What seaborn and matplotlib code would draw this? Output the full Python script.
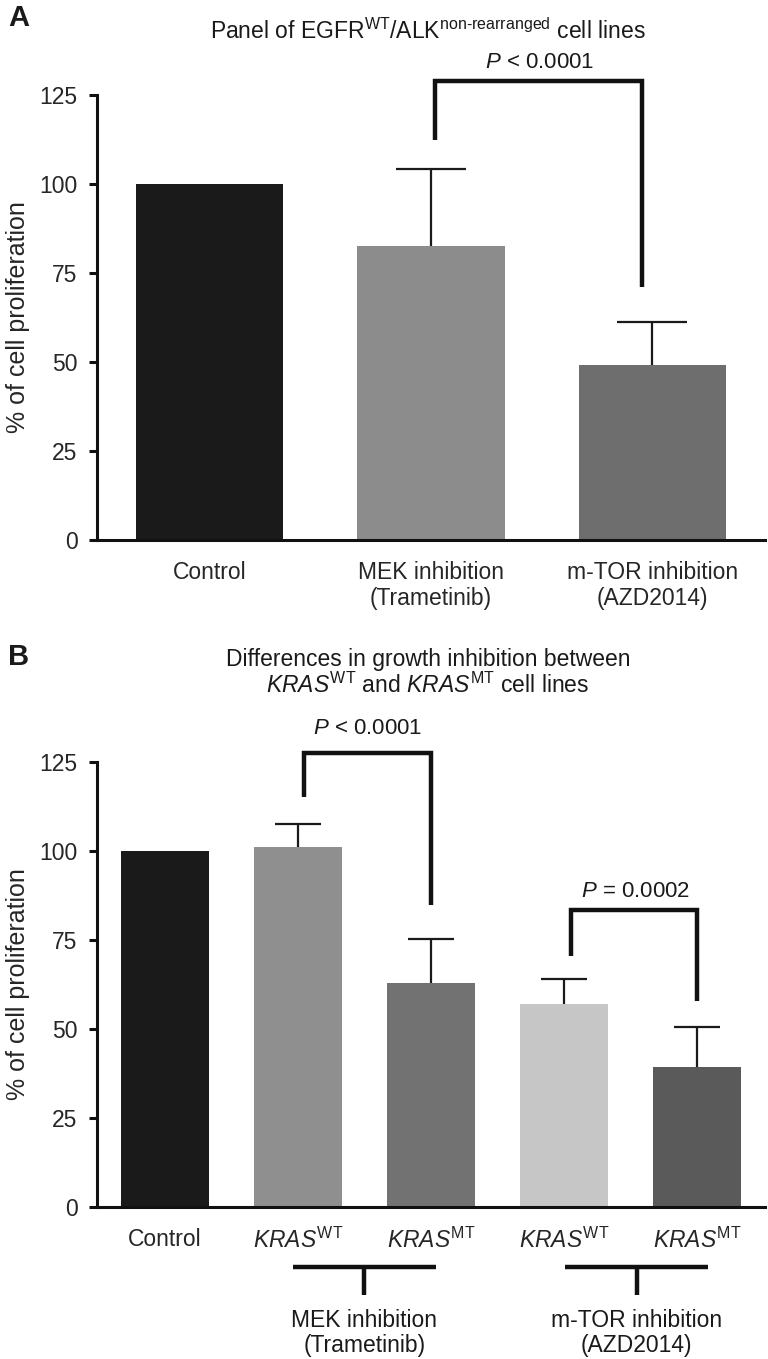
import numpy as np
import pandas as pd
import matplotlib
matplotlib.use("Agg")
import matplotlib.pyplot as plt
import seaborn as sns

# -------------------------------
# Data
# -------------------------------
a_groups = ["Control", "MEK inhibition\n(Trametinib)", "m-TOR inhibition\n(AZD2014)"]
a_mean = [100.0, 82.6, 49.2]
a_sd = [0.0, 21.6, 12.0]
a_colors = ["#1a1a1a", "#8c8c8c", "#6e6e6e"]

b_groups = ["Control", "MEK_WT", "MEK_MT", "mTOR_WT", "mTOR_MT"]
b_ticklabels = ["Control",
                r"$\mathit{KRAS}^{\mathrm{WT}}$", r"$\mathit{KRAS}^{\mathrm{MT}}$",
                r"$\mathit{KRAS}^{\mathrm{WT}}$", r"$\mathit{KRAS}^{\mathrm{MT}}$"]
b_mean = [100.0, 101.1, 62.9, 57.0, 39.3]
b_sd = [0.0, 6.5, 12.4, 7.0, 11.3]
b_colors = ["#1a1a1a", "#8f8f8f", "#727272", "#c6c6c6", "#5a5a5a"]

yticks = [0, 25, 50, 75, 100, 125]

# significance brackets: (x_left, x_right, y_left, y_top, y_right, label, label_x, label_y)
a_sig = [(1.02, 1.955, 112.4, 128.9, 71.1, r"$\mathit{P}$ < 0.0001", 1.49, 134.0)]
b_sig = [(1.045, 2.0, 115.2, 127.6, 84.8, r"$\mathit{P}$ < 0.0001", 1.52, 134.5),
         (3.055, 4.0, 70.5, 83.4, 57.9, r"$\mathit{P}$ = 0.0002", 3.54, 88.5)]

# treatment groups under panel B: (x_start, x_end, label)
b_treat = [(0.96, 2.04, "MEK inhibition\n(Trametinib)"),
           (3.01, 4.08, "m-TOR inhibition\n(AZD2014)")]

# -------------------------------
# Style
# -------------------------------
sns.set_theme(style="ticks")
plt.rcParams["font.family"] = ["Liberation Sans", "DejaVu Sans"]
plt.rcParams["mathtext.fontset"] = "custom"
plt.rcParams["mathtext.rm"] = "Liberation Sans"
plt.rcParams["mathtext.it"] = "Liberation Sans:italic"
plt.rcParams["mathtext.bf"] = "Liberation Sans:bold"
plt.rcParams["text.color"] = "#1a1a1a"

fig = plt.figure(figsize=(7.68, 13.59), dpi=100)
ax_a = fig.add_axes([97 / 768, 1 - 540 / 1359, 668 / 768, 445 / 1359])
ax_b = fig.add_axes([97 / 768, 1 - 1207 / 1359, 668 / 768, 445 / 1359])


def draw_panel(ax, groups, mean, sd, colors, cap_half):
    df = pd.DataFrame({"group": groups, "value": mean})
    sns.barplot(data=df, x="group", y="value", hue="group", order=groups,
                palette=colors, legend=False, width=0.665, saturation=1,
                linewidth=0, ax=ax)
    # upper error bars only (stem + cap), no cap at the bar top
    x = np.arange(len(groups))
    m = np.array(mean)
    s = np.array(sd)
    has = s > 0
    ax.vlines(x[has], m[has], m[has] + s[has], color="#1a1a1a", lw=1.6, zorder=3)
    ax.hlines(m[has] + s[has], x[has] - cap_half, x[has] + cap_half,
              color="#1a1a1a", lw=1.6, zorder=3)
    ax.set_ylim(0, 125)
    ax.set_yticks(yticks)
    ax.set_xlim(-0.51, len(groups) - 0.49)
    ax.set_xlabel("")
    ax.set_ylabel("% of cell proliferation", fontsize=18, labelpad=7)
    for sp in ["top", "right"]:
        ax.spines[sp].set_visible(False)
    for sp in ["left", "bottom"]:
        ax.spines[sp].set_linewidth(2.2)
        ax.spines[sp].set_color("#111111")
    ax.tick_params(axis="y", direction="out", length=6, width=2.2,
                   labelsize=16.5, pad=8, color="#111111")
    ax.tick_params(axis="x", length=0, labelsize=16.5, pad=15)


def draw_sig(ax, sig):
    for x1, x2, y1, top, y2, label, lx, ly in sig:
        ax.plot([x1, x1, x2, x2], [y1, top, top, y2], color="#111111",
                lw=3.2, clip_on=False, solid_joinstyle="miter",
                solid_capstyle="butt", zorder=4)
        ax.text(lx, ly, label, ha="center", va="center", fontsize=16)


# -------------------------------
# Panel A
# -------------------------------
draw_panel(ax_a, a_groups, a_mean, a_sd, a_colors, cap_half=0.158)
ax_a.set_xticks(range(len(a_groups)))
ax_a.set_xticklabels(a_groups, linespacing=1.15)
draw_sig(ax_a, a_sig)

fig.text(428 / 768, 1 - 31 / 1359,
         r"Panel of EGFR$^{\mathrm{WT}}$/ALK$^{\text{non-rearranged}}$ cell lines",
         ha="center", va="center", fontsize=16.5)
fig.text(8 / 768, 1 - 18 / 1359, "A", ha="left", va="center",
         fontsize=21, fontweight="bold")

# -------------------------------
# Panel B
# -------------------------------
draw_panel(ax_b, b_groups, b_mean, b_sd, b_colors, cap_half=0.172)
ax_b.set_xticks(range(len(b_groups)))
ax_b.set_xticklabels(b_ticklabels)
draw_sig(ax_b, b_sig)

for x1, x2, label in b_treat:
    mid = (x1 + x2) / 2
    ax_b.plot([x1, x2], [-16.9, -16.9], color="#111111", lw=3.2,
              clip_on=False, solid_capstyle="butt")
    ax_b.plot([mid, mid], [-16.9, -24.7], color="#111111", lw=3.2,
              clip_on=False, solid_capstyle="butt")
    ax_b.text(mid, -35.4, label, ha="center", va="center", fontsize=16.5,
              linespacing=1.15)

fig.text(428 / 768, 1 - 673 / 1359,
         "Differences in growth inhibition between\n"
         r"$\mathit{KRAS}^{\mathrm{WT}}$ and $\mathit{KRAS}^{\mathrm{MT}}$ cell lines",
         ha="center", va="center", fontsize=16.5, linespacing=1.1)
fig.text(8 / 768, 1 - 657 / 1359, "B", ha="left", va="center",
         fontsize=21, fontweight="bold")

fig.savefig("out.png", dpi=100)
plt.close(fig)
